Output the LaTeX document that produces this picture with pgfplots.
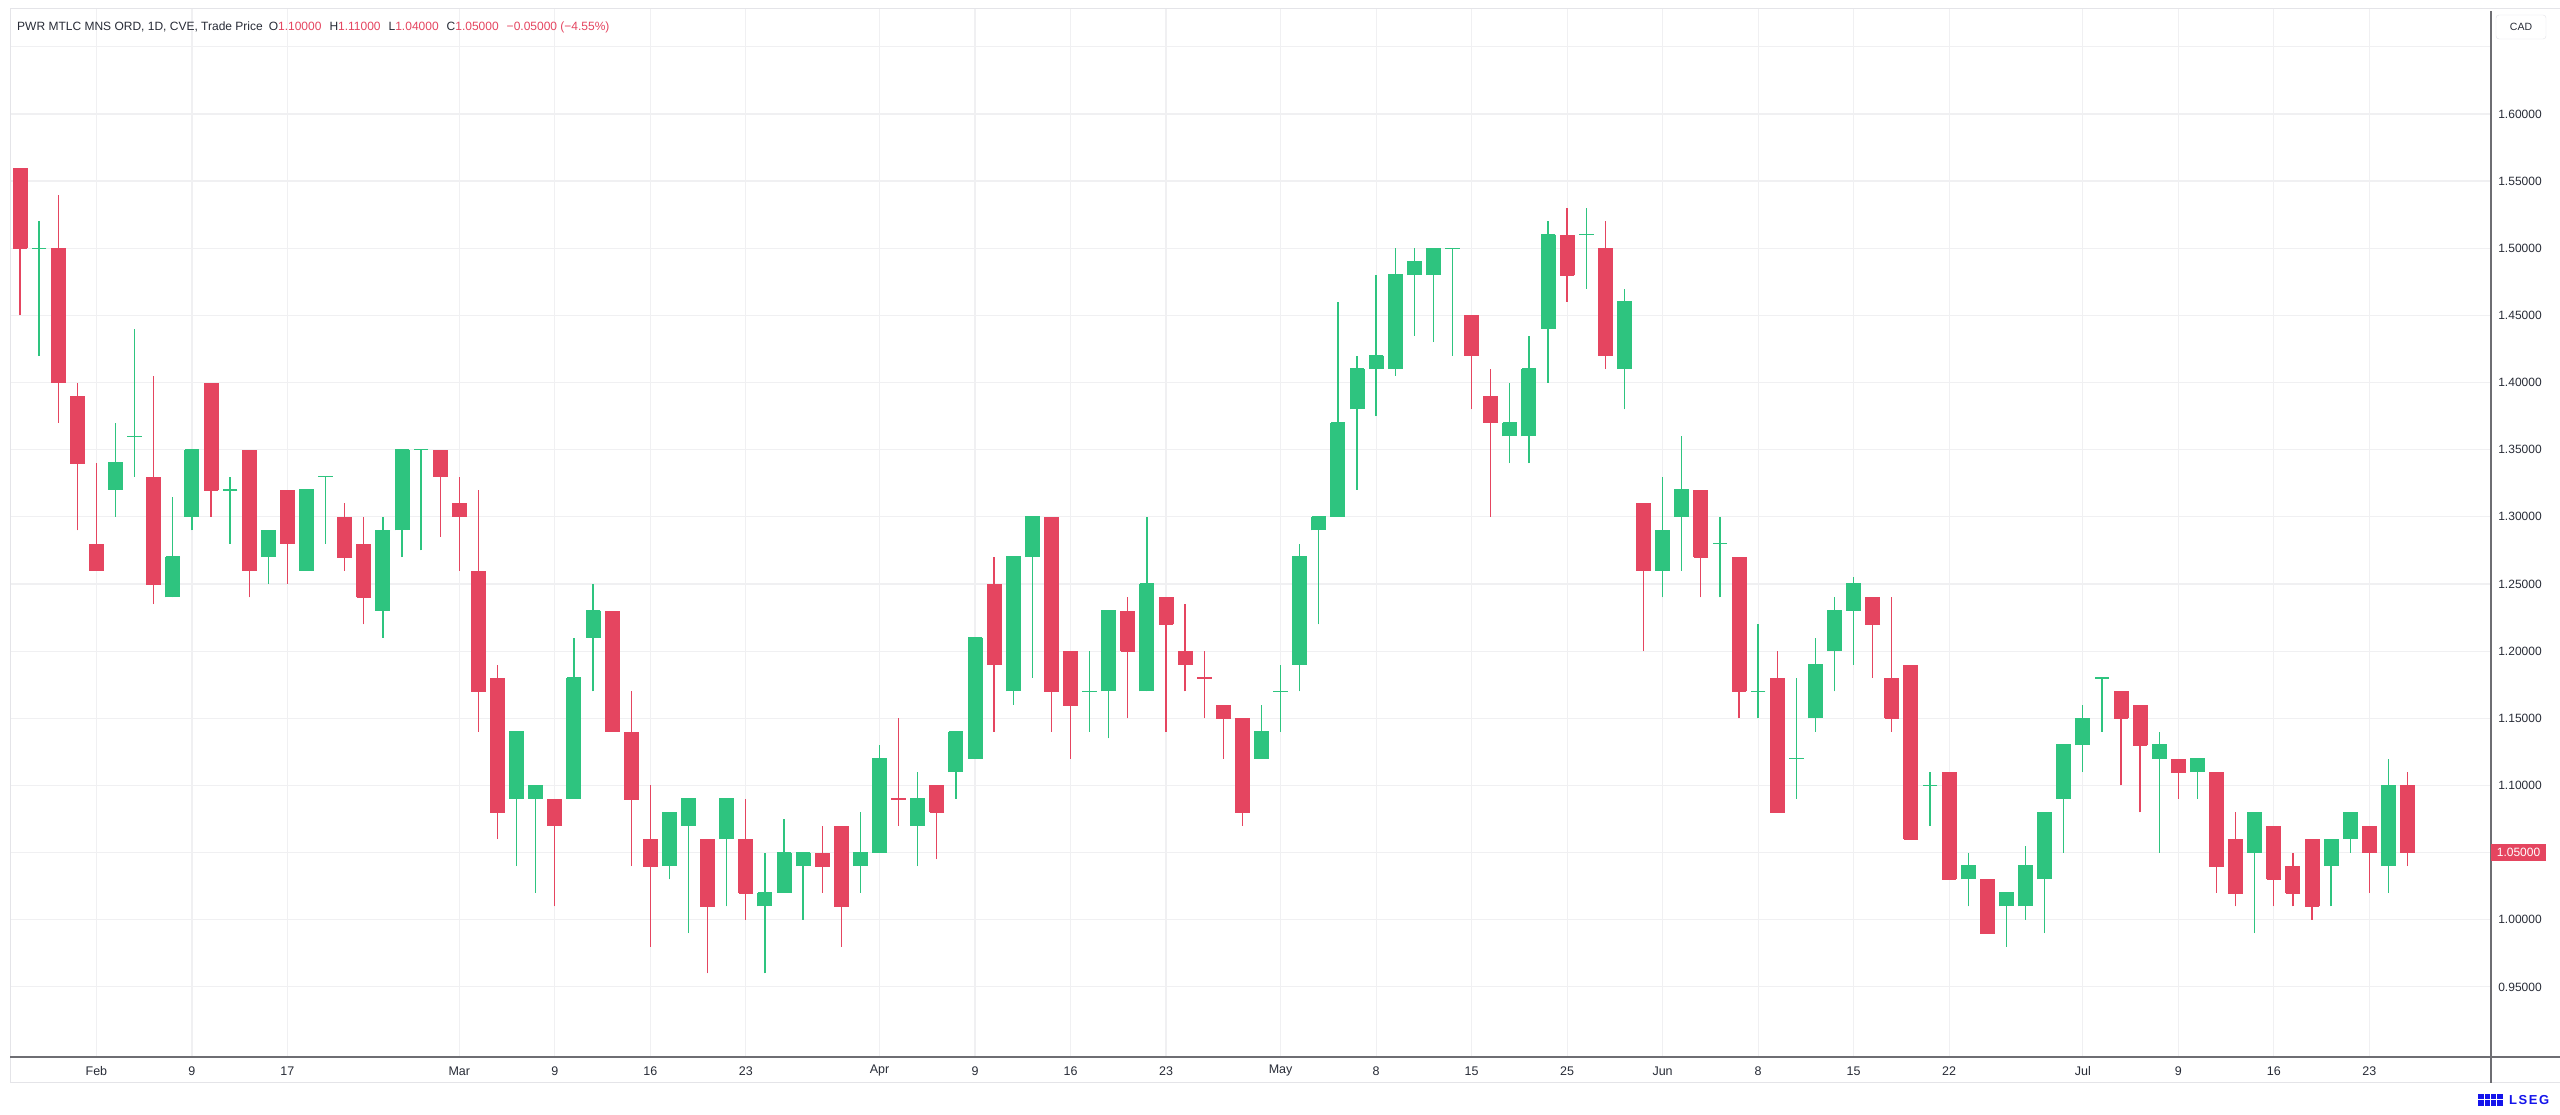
\documentclass[border=0pt]{standalone}
\usepackage{pgfplots}
\pgfplotsset{compat=1.18}
\usepackage{pgfplotstable}
\usepackage{fontspec}
\setmainfont{Liberation Sans}
\definecolor{cgreen}{RGB}{46,196,127}
\definecolor{cred}{RGB}{229,69,96}
\definecolor{gridc}{RGB}{240,240,242}
\definecolor{txtc}{RGB}{40,44,55}
\definecolor{axc}{RGB}{110,110,115}
\definecolor{bordc}{RGB}{228,228,232}
\definecolor{lsegblue}{RGB}{20,20,235}

% green candles: index open high low close
\pgfplotstableread{
i o h l c
1 1.50 1.52 1.42 1.50
5 1.32 1.37 1.30 1.34
6 1.36 1.44 1.33 1.36
8 1.24 1.315 1.24 1.27
9 1.30 1.35 1.29 1.35
11 1.32 1.33 1.28 1.32
13 1.27 1.29 1.25 1.29
15 1.26 1.32 1.26 1.32
16 1.33 1.33 1.28 1.33
19 1.23 1.30 1.21 1.29
20 1.29 1.35 1.27 1.35
21 1.35 1.35 1.275 1.35
26 1.09 1.14 1.04 1.14
27 1.09 1.10 1.02 1.10
29 1.09 1.21 1.09 1.18
30 1.21 1.25 1.17 1.23
34 1.04 1.08 1.03 1.08
35 1.07 1.09 0.99 1.09
37 1.06 1.09 1.01 1.09
39 1.01 1.05 0.96 1.02
40 1.02 1.075 1.02 1.05
41 1.04 1.05 1.00 1.05
44 1.04 1.08 1.02 1.05
45 1.05 1.13 1.05 1.12
47 1.07 1.11 1.04 1.09
49 1.11 1.14 1.09 1.14
50 1.12 1.21 1.12 1.21
52 1.17 1.27 1.16 1.27
53 1.27 1.30 1.18 1.30
56 1.17 1.20 1.14 1.17
57 1.17 1.23 1.135 1.23
59 1.17 1.30 1.17 1.25
65 1.12 1.16 1.12 1.14
66 1.17 1.19 1.14 1.17
67 1.19 1.28 1.17 1.27
68 1.29 1.30 1.22 1.30
69 1.30 1.46 1.30 1.37
70 1.38 1.42 1.32 1.41
71 1.41 1.48 1.375 1.42
72 1.41 1.50 1.405 1.48
73 1.48 1.50 1.435 1.49
74 1.48 1.50 1.43 1.50
75 1.50 1.50 1.42 1.50
78 1.36 1.40 1.34 1.37
79 1.36 1.435 1.34 1.41
80 1.44 1.52 1.40 1.51
82 1.51 1.53 1.47 1.51
84 1.41 1.47 1.38 1.46
86 1.26 1.33 1.24 1.29
87 1.30 1.36 1.26 1.32
89 1.28 1.30 1.24 1.28
91 1.17 1.22 1.15 1.17
93 1.12 1.18 1.09 1.12
94 1.15 1.21 1.14 1.19
95 1.20 1.24 1.17 1.23
96 1.23 1.255 1.19 1.25
100 1.10 1.11 1.07 1.10
102 1.03 1.05 1.01 1.04
104 1.01 1.02 0.98 1.02
105 1.01 1.055 1.00 1.04
106 1.03 1.08 0.99 1.08
107 1.09 1.13 1.05 1.13
108 1.13 1.16 1.11 1.15
109 1.18 1.18 1.14 1.18
112 1.12 1.14 1.05 1.13
114 1.11 1.12 1.09 1.12
117 1.05 1.08 0.99 1.08
121 1.04 1.06 1.01 1.06
122 1.06 1.08 1.05 1.08
124 1.04 1.12 1.02 1.10
}\greentab

% red candles: index open high low close
\pgfplotstableread{
i o h l c
0 1.56 1.56 1.45 1.50
2 1.50 1.54 1.37 1.40
3 1.39 1.40 1.29 1.34
4 1.28 1.34 1.26 1.26
7 1.33 1.405 1.235 1.25
10 1.40 1.40 1.30 1.32
12 1.35 1.35 1.24 1.26
14 1.32 1.32 1.25 1.28
17 1.30 1.31 1.26 1.27
18 1.28 1.30 1.22 1.24
22 1.35 1.35 1.285 1.33
23 1.31 1.33 1.26 1.30
24 1.26 1.32 1.14 1.17
25 1.18 1.19 1.06 1.08
28 1.09 1.09 1.01 1.07
31 1.23 1.23 1.14 1.14
32 1.14 1.17 1.04 1.09
33 1.06 1.10 0.98 1.04
36 1.06 1.06 0.96 1.01
38 1.06 1.09 1.00 1.02
42 1.05 1.07 1.02 1.04
43 1.07 1.07 0.98 1.01
46 1.09 1.15 1.07 1.09
48 1.10 1.10 1.045 1.08
51 1.25 1.27 1.14 1.19
54 1.30 1.30 1.14 1.17
55 1.20 1.20 1.12 1.16
58 1.23 1.24 1.15 1.20
60 1.24 1.24 1.14 1.22
61 1.20 1.235 1.17 1.19
62 1.18 1.20 1.15 1.18
63 1.16 1.16 1.12 1.15
64 1.15 1.15 1.07 1.08
76 1.45 1.45 1.38 1.42
77 1.39 1.41 1.30 1.37
81 1.51 1.53 1.46 1.48
83 1.50 1.52 1.41 1.42
85 1.31 1.31 1.20 1.26
88 1.32 1.32 1.24 1.27
90 1.27 1.27 1.15 1.17
92 1.18 1.20 1.08 1.08
97 1.24 1.24 1.18 1.22
98 1.18 1.24 1.14 1.15
99 1.19 1.19 1.06 1.06
101 1.11 1.11 1.03 1.03
103 1.03 1.03 0.99 0.99
110 1.17 1.17 1.10 1.15
111 1.16 1.16 1.08 1.13
113 1.12 1.12 1.09 1.11
115 1.11 1.11 1.02 1.04
116 1.06 1.08 1.01 1.02
118 1.07 1.07 1.01 1.03
119 1.04 1.05 1.01 1.02
120 1.06 1.06 1.00 1.01
123 1.07 1.07 1.02 1.05
125 1.10 1.11 1.04 1.05
}\redtab

\begin{document}
\begin{tikzpicture}
\path[use as bounding box] (0,0) rectangle (2560pt,1115pt);
\fill[white] (0,0) rectangle (2560pt,1115pt);
\begin{axis}[
  at={(10pt,58pt)}, anchor=south west,
  scale only axis, width=2480pt, height=1048pt,
  xmin=-0.524, xmax=129.32, ymin=0.8978, ymax=1.6782,
  axis line style={draw=none},
  major tick length=0pt,
  xtick={4,9,14,23,28,33,38,45,50,55,60,66,71,76,81,86,91,96,101,108,113,118,123},
  xticklabels={Feb,9,17,Mar,9,16,23,Apr,9,16,23,May,8,15,25,Jun,8,15,22,Jul,9,16,23},
  ytick={0.95,1.00,1.05,1.10,1.15,1.20,1.25,1.30,1.35,1.40,1.45,1.50,1.55,1.60},
  extra y ticks={1.65}, extra y tick labels={},
  extra y tick style={grid=major, major grid style={draw=gridc, line width=1.2pt}},
  ytick pos=right, yticklabel pos=right,
  xmajorgrids, ymajorgrids,
  major grid style={draw=gridc, line width=1.2pt},
  yticklabel style={anchor=center, xshift=30pt, font=\fontsize{12}{14}\selectfont, text=txtc},
  xticklabel style={anchor=center, yshift=-14pt, font=\fontsize{12.5}{14}\selectfont, text=txtc},
  scaled y ticks=false,
  /pgf/number format/fixed,
  /pgf/number format/fixed zerofill,
  /pgf/number format/precision=5,
  /pgf/number format/assume math mode=true,
]
% wicks
\addplot[draw=none, mark=none, forget plot,
  error bars/.cd, y dir=plus, y explicit, error mark=none,
  error bar style={draw=cgreen, line width=1.3pt}]
  table[x=i, y=l, y error plus expr=\thisrow{h}-\thisrow{l}] {\greentab};
\addplot[draw=none, mark=none, forget plot,
  error bars/.cd, y dir=plus, y explicit, error mark=none,
  error bar style={draw=cred, line width=1.3pt}]
  table[x=i, y=l, y error plus expr=\thisrow{h}-\thisrow{l}] {\redtab};
% close dashes (visible for doji candles)
\addplot[only marks, mark=-, mark size=7.3pt, forget plot,
  mark options={draw=cgreen, line width=1.3pt}]
  table[x=i, y=c] {\greentab};
\addplot[only marks, mark=-, mark size=7.3pt, forget plot,
  mark options={draw=cred, line width=1.3pt}]
  table[x=i, y=c] {\redtab};
% bodies
\addplot[draw=none, mark=none, forget plot,
  error bars/.cd, y dir=plus, y explicit, error mark=none,
  error bar style={draw=cgreen, line width=15pt}]
  table[x=i, y=o, y error plus expr=\thisrow{c}-\thisrow{o}] {\greentab};
\addplot[draw=none, mark=none, forget plot,
  error bars/.cd, y dir=plus, y explicit, error mark=none,
  error bar style={draw=cred, line width=15pt}]
  table[x=i, y=c, y error plus expr=\thisrow{o}-\thisrow{c}] {\redtab};
\end{axis}
% panel frame and axis lines
\draw[bordc, line width=1pt] (10pt,32pt) -- (10pt,1106pt) -- (2560pt,1106pt);
\draw[bordc, line width=1pt] (10pt,32pt) -- (2560pt,32pt);
\draw[axc, line width=1.5pt] (10pt,58pt) -- (2560pt,58pt);
\draw[axc, line width=1.5pt] (2491pt,32pt) -- (2491pt,1104pt);
% currency box
\node[draw=bordc, rounded corners=3pt, fill=white, minimum width=50pt, minimum height=24pt,
  inner sep=0pt, text=txtc, font=\fontsize{10.5}{12}\selectfont] at (2521pt,1088pt) {CAD};
% last price label
\node[fill=cred, text=white, minimum width=55pt, minimum height=17pt, inner sep=0pt,
  font=\fontsize{12}{14}\selectfont] at (2518.5pt,262.4pt) {1.05000};
% legend header
\node[anchor=west, inner sep=0pt, text=txtc, font=\fontsize{12}{14}\selectfont] at (17pt,1088pt)
  {PWR MTLC MNS ORD, 1D, CVE, Trade Price\hspace{6pt}O\textcolor{cred}{1.10000}\hspace{8pt}H\textcolor{cred}{1.11000}\hspace{8pt}L\textcolor{cred}{1.04000}\hspace{8pt}C\textcolor{cred}{1.05000}\hspace{8pt}\textcolor{cred}{−0.05000 (−4.55\%)}};
% LSEG logo
\fill[lsegblue] (2478pt,9pt) rectangle (2503pt,21pt);
\draw[white, line width=1pt] (2484pt,9pt) -- (2484pt,21pt) (2490pt,9pt) -- (2490pt,21pt) (2496pt,9pt) -- (2496pt,21pt) (2478pt,15pt) -- (2503pt,15pt);
\node[anchor=west, inner sep=0pt, text=lsegblue, font=\bfseries\fontsize{13}{14}\selectfont] at (2509pt,15pt) {L\kern1.5pt S\kern1.5pt E\kern1.5pt G};
\end{tikzpicture}
\end{document}
